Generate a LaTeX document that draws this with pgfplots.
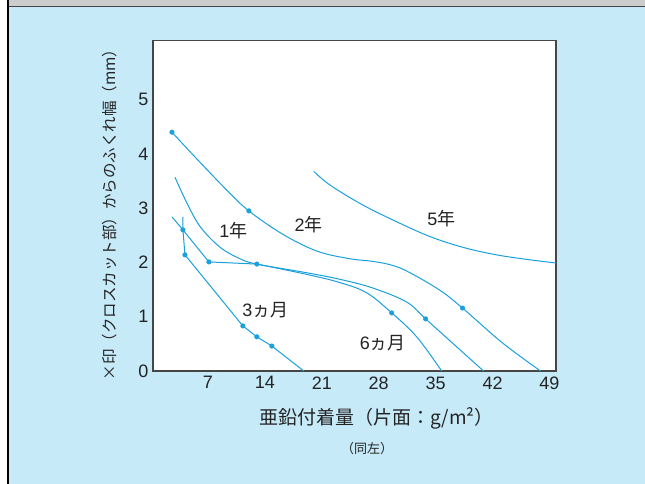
\documentclass[border=0pt]{standalone}
\usepackage{fontspec}
\usepackage{pgfplots}
\pgfplotsset{compat=1.18}
\setmainfont{Liberation Sans}
\newfontfamily\jp{Noto Sans CJK JP}
\definecolor{cl}{RGB}{26,160,220}
\definecolor{bgblue}{RGB}{199,234,249}
\definecolor{topgray}{RGB}{204,204,204}
\definecolor{axgray}{RGB}{70,70,70}
\definecolor{txt}{RGB}{35,35,35}
\begin{document}
\begin{tikzpicture}[x=1pt,y=1pt]
\useasboundingbox (0,0) rectangle (645,484);
\fill[white] (0,0) rectangle (645,484);
\fill[bgblue] (8,0) rectangle (645,477);
\fill[topgray] (8,477) rectangle (645,484);
\draw[axgray, line width=1pt] (8,477) -- (645,477);
\draw[black, line width=1.2pt] (8,0) -- (8,484);
\begin{axis}[
  at={(153pt,113pt)}, anchor=south west,
  width=403pt, height=330.5pt, scale only axis,
  xmin=0.25, xmax=49.8, ymin=0, ymax=6.09,
  xtick={7,14,21,28,35,42,49}, ytick={0,1,2,3,4,5},
  major tick length=0pt,
  axis line style={draw=axgray, line width=1.2pt},
  axis background/.style={fill=white},
  tick label style={font=\fontsize{18}{18}\selectfont, text=txt},
  /pgf/number format/assume math mode=true,
  xticklabel style={yshift=-2pt},
  yticklabel style={xshift=-1pt},
  clip=false,
]
% 2 years
\addplot[cl, line width=1pt, smooth, tension=0.6] coordinates {
 (2.58,4.40) (5.5,3.93) (9.34,3.33) (12.04,2.95) (16.2,2.52) (20.4,2.21) (24.4,2.07) (27.3,2.02) (29.6,1.95) (31.6,1.83) (35.5,1.49) (38.3,1.16) (43.2,0.52) (47.9,0)};
\addplot[cl, only marks, mark=*, mark size=2.3pt] coordinates {(2.58,4.40) (12.04,2.95) (38.3,1.16)};
% 1 year
\addplot[cl, line width=1pt, smooth, tension=0.6] coordinates {
 (2.95,3.57) (4.5,3.07) (6.1,2.65) (8.5,2.28) (10.93,2.07) (13.02,1.97) (19.16,1.81) (23.21,1.69) (27.26,1.53) (31.44,1.27) (33.77,0.96) (37.33,0.48) (40.89,0)};
\addplot[cl, only marks, mark=*, mark size=2.3pt] coordinates {(13.02,1.97) (33.77,0.96)};
% 6 months
\addplot[cl, line width=1pt] coordinates {(2.58,2.84) (3.93,2.60) (7.12,2.01) (13.02,1.97)};
\addplot[cl, line width=1pt, smooth, tension=0.6] coordinates {
 (13.02,1.97) (19.16,1.78) (23.21,1.63) (26.53,1.44) (29.60,1.07) (32.67,0.63) (35.74,0)};
\addplot[cl, only marks, mark=*, mark size=2.3pt] coordinates {(3.93,2.60) (7.12,2.01) (29.60,1.07)};
% 3 months
\addplot[cl, line width=1pt] coordinates {(3.93,2.84) (3.93,2.60) (4.18,2.14) (11.30,0.83) (13.02,0.63) (14.86,0.46) (18.79,0)};
\addplot[cl, only marks, mark=*, mark size=2.3pt] coordinates {(4.18,2.14) (11.30,0.83) (13.02,0.63) (14.86,0.46)};
% 5 years
\addplot[cl, line width=1pt, smooth, tension=0.6] coordinates {
 (20.02,3.68) (21.98,3.43) (26.03,3.06) (30.21,2.75) (34.26,2.48) (38.32,2.28) (42.49,2.14) (46.54,2.05) (49.8,1.99)};
\begin{scope}[every node/.style={text=txt, font=\fontsize{18}{18}\selectfont}]
\node at (axis cs:10.13,2.59) {1\jp 年};
\node at (axis cs:19.4,2.69) {2\jp 年};
\node at (axis cs:35.7,2.81) {5\jp 年};
\node at (axis cs:14.06,1.12) {3\jp ヵ月};
\node at (axis cs:28.5,0.51) {6\jp ヵ月};
\end{scope}
\end{axis}
\node[text=txt, rotate=90, font=\jp\fontsize{15.5}{16}\selectfont] at (110,273) {×印（クロスカット部）からのふくれ幅（mm）};
\node[text=txt, font=\jp\fontsize{19}{19}\selectfont] at (376.5,66) {亜鉛付着量（片面：g/m²）};
\node[text=txt, font=\jp\fontsize{13}{13}\selectfont] at (367,35) {（同左）};
\end{tikzpicture}
\end{document}
